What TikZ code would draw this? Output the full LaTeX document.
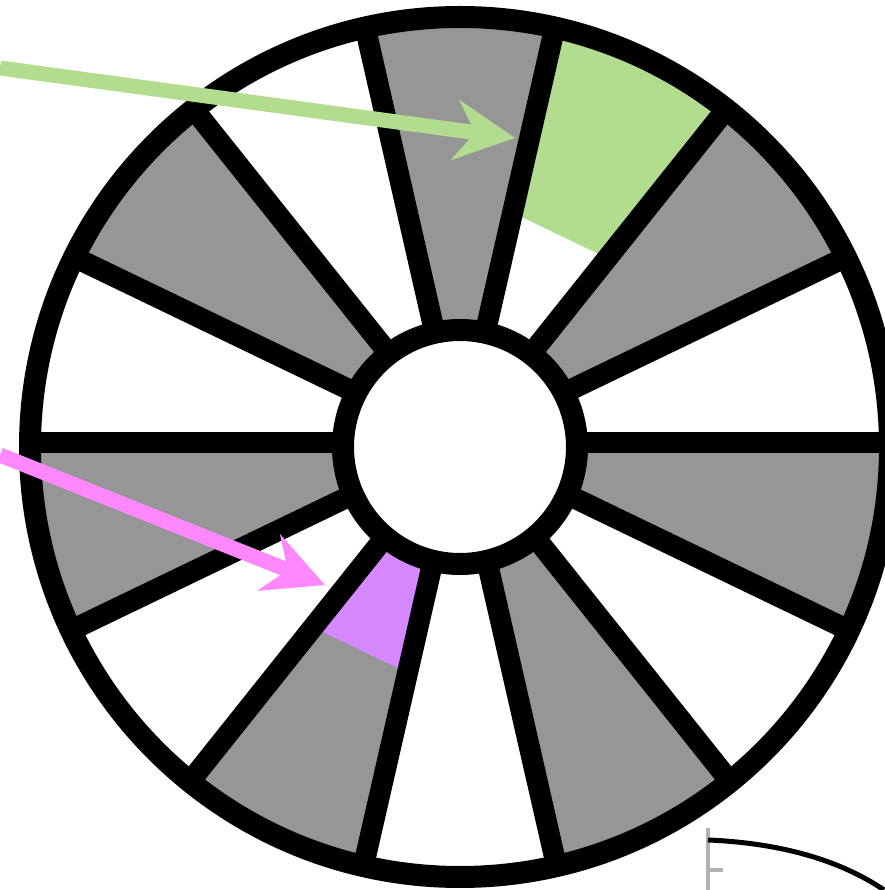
\documentclass[tikz,border=0pt]{standalone}
\usetikzlibrary{arrows.meta}
\definecolor{wheelgray}{HTML}{969696}
\definecolor{leafgreen}{HTML}{B2DD8E}
\definecolor{pinkarrow}{HTML}{FF88FF}
\definecolor{lilac}{HTML}{D588FF}

\begin{document}
\begin{tikzpicture}[
  x=0.2mm, y=0.2mm,
  rim/.style={draw=black, line width=0.44cm},
  spoke/.style={draw=black, line width=0.42cm},
  arr/.style={-{Stealth[length=12mm, width=12mm, inset=4mm]}, line width=0.3cm},
  scrap/.style={line width=0.1cm}
]
\useasboundingbox (0,0) rectangle (884,890);
\coordinate (c) at (460,443);
\coordinate (hub) at (460,447);

\begin{scope}[shift={(c)}]
  % sectors
  \foreach \i in {1,3,...,13}
    \fill[wheelgray] (0,0) -- (\i*360/14:430) arc[start angle=\i*360/14, end angle=(\i+1)*360/14, radius=430] -- cycle;
  \fill[leafgreen] (2*360/14:240) -- (2*360/14:430) arc[start angle=2*360/14, end angle=3*360/14, radius=430]
    -- (3*360/14:240) -- cycle;
  \fill[lilac] (9*360/14:117) -- (9*360/14:232) -- (10*360/14:232)
    -- (10*360/14:117) arc[start angle=10*360/14, end angle=9*360/14, radius=117] -- cycle;
\end{scope}
% spokes
\begin{scope}[shift={(hub)}]
  \foreach \i in {0,...,13}
    \draw[spoke] (\i*360/14:117) -- (\i*360/14:428);
\end{scope}
\draw[rim, fill=white] (c) circle[radius=117];
\draw[rim] (c) circle[radius=430];

\coordinate (gtail) at (0,822);
\coordinate (gtip) at (515,752);
\coordinate (ptail) at (0,435);
\coordinate (ptip) at (325,305);
\draw[arr, leafgreen] (gtail) -- (gtip);
\draw[arr, pinkarrow] (ptail) -- (ptip);

% piece of the next figure
\draw[line width=0.07cm, black!30] (708,62) -- (708,0);
\draw[line width=0.07cm, black!30] (708,20) -- (723,20);
\draw[scrap] (708,50) .. controls (780,47) and (840,30) .. (884,0);
\end{tikzpicture}
\end{document}
